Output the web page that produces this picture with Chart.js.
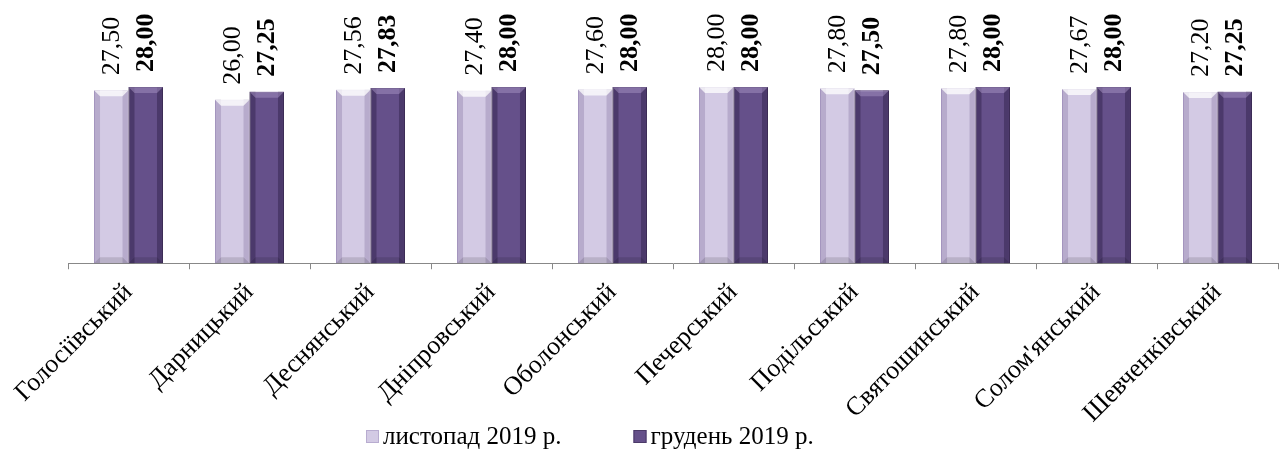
<!DOCTYPE html>
<html>
<head>
<meta charset="utf-8">
<script src="https://cdn.jsdelivr.net/npm/chart.js@4"></script>
<style>
  body { margin: 0; background: #fff; }
  #wrap { width: 1288px; height: 453px; }
</style>
</head>
<body>
<div id="wrap"><canvas id="chart"></canvas></div>
<script>
let rajony = ['Голосіївський', 'Дарницький', 'Деснянський', 'Дніпровський', 'Оболонський',
    'Печерський', 'Подільський', 'Святошинський', 'Солом\'янський', 'Шевченківський'];
let listopad = [27.50, 26.00, 27.56, 27.40, 27.60, 28.00, 27.80, 27.80, 27.67, 27.20];
let gruden = [28.00, 27.25, 27.83, 28.00, 28.00, 28.00, 27.50, 28.00, 28.00, 27.25];
let nazvy = ['листопад 2019 р.', 'грудень 2019 р.'];

const serif = '"Liberation Serif", "Times New Roman", serif';

// bevel look of the bars
let obyom = {
    id: 'obyom',
    afterDatasetsDraw(chart) {
        const c = chart.ctx;
        const tony = [
            { edge: 'rgba(120,100,150,0.3)', cap: 'rgba(255,255,255,0.75)' },
            { edge: 'rgba(30,15,50,0.35)', cap: 'rgba(160,140,190,0.55)' }
        ];
        chart.data.datasets.forEach((ds, i) => {
            chart.getDatasetMeta(i).data.forEach(bar => {
                const l = bar.x - bar.width / 2, r = bar.x + bar.width / 2;
                const t = bar.y, b = bar.base, e = 6;
                c.save();
                c.fillStyle = tony[i].edge;
                c.fillRect(l, t, e, b - t);
                c.fillRect(r - e, t, e, b - t);
                c.fillStyle = tony[i].cap;
                c.beginPath();
                c.moveTo(l, t); c.lineTo(r, t); c.lineTo(r - e, t + e); c.lineTo(l + e, t + e);
                c.closePath(); c.fill();
                c.fillStyle = 'rgba(0,0,0,0.12)';
                c.beginPath();
                c.moveTo(l, b); c.lineTo(r, b); c.lineTo(r - e, b - e); c.lineTo(l + e, b - e);
                c.closePath(); c.fill();
                c.restore();
            });
        });
    }
};

// rotated value labels above the bars
let pidpysy = {
    id: 'pidpysy',
    afterDatasetsDraw(chart) {
        const c = chart.ctx;
        chart.data.datasets.forEach((ds, i) => {
            chart.getDatasetMeta(i).data.forEach((bar, j) => {
                c.save();
                c.translate(bar.x, bar.y - 15);
                c.rotate(-Math.PI / 2);
                c.font = (i === 1 ? 'bold ' : '') + '26px ' + serif;
                c.fillStyle = '#000';
                c.textAlign = 'left';
                c.textBaseline = 'middle';
                c.fillText(ds.data[j].toFixed(2).replace('.', ','), 0, 1);
                c.restore();
            });
        });
    }
};

// legend drawn by hand to get the tight Office-like spacing
let lehenda = {
    id: 'lehenda',
    afterDraw(chart) {
        const c = chart.ctx;
        const y = 437;
        let x = 366;
        c.save();
        c.font = '25px ' + serif;
        c.textBaseline = 'middle';
        chart.data.datasets.forEach((ds, i) => {
            c.fillStyle = ds.backgroundColor;
            c.fillRect(x, y - 7, 13, 13);
            c.strokeStyle = ds.borderColor;
            c.lineWidth = 1;
            c.strokeRect(x + 0.5, y - 6.5, 12, 12);
            c.fillStyle = '#000';
            c.fillText(ds.label, x + 17, y);
            x += 17 + c.measureText(ds.label).width + 72;
        });
        c.restore();
    }
};

let datos = {
    labels: rajony,
    datasets: [
        {
            label: nazvy[0],
            data: listopad,
            backgroundColor: '#d3cae4',
            borderColor: '#b8acd0',
            borderWidth: 1,
            categoryPercentage: 0.57,
            barPercentage: 1.0
        },
        {
            label: nazvy[1],
            data: gruden,
            backgroundColor: '#65508a',
            borderColor: '#4b3a68',
            borderWidth: 1,
            categoryPercentage: 0.57,
            barPercentage: 1.0
        }
    ]
};

let opciones = {
    responsive: true,
    maintainAspectRatio: false,
    animation: false,
    layout: { padding: { top: 43, right: 10, left: 68, bottom: 16 } },
    plugins: {
        legend: { display: false },
        tooltip: { enabled: false }
    },
    scales: {
        x: {
            grid: { display: true, drawOnChartArea: false, offset: true, tickLength: 6, color: '#888' },
            border: { color: '#888' },
            ticks: {
                font: { family: serif, size: 26 },
                color: '#000',
                minRotation: 45,
                maxRotation: 45,
                padding: 8
            }
        },
        y: {
            display: false,
            min: 0,
            max: 35
        }
    }
};

let ctx = document.getElementById('chart');

let miGrafica = new Chart(ctx, {
    type: 'bar',
    data: datos,
    options: opciones,
    plugins: [obyom, pidpysy, lehenda]
});
</script>
</body>
</html>
